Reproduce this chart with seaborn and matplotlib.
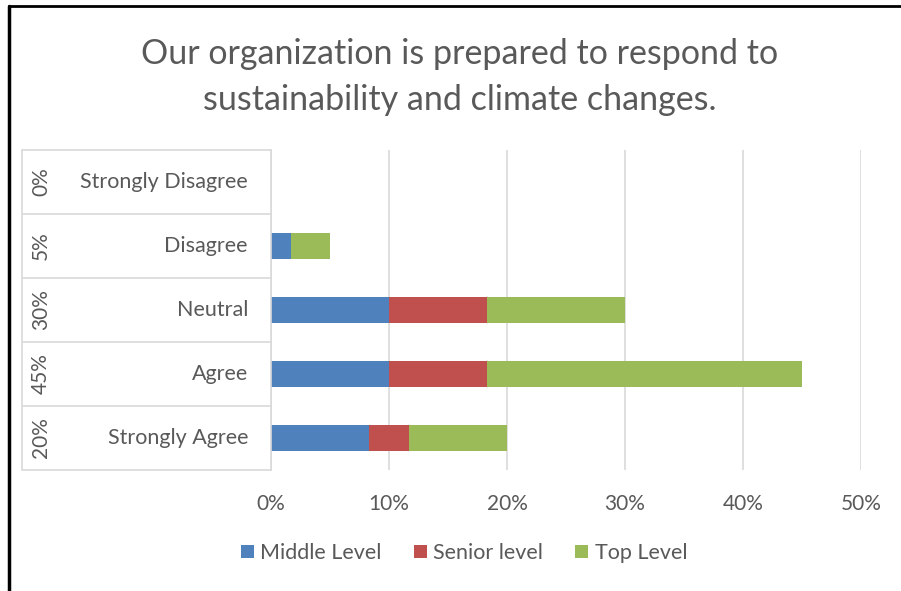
import matplotlib
matplotlib.use("Agg")
import matplotlib.pyplot as plt
import seaborn as sns
import pandas as pd
import numpy as np
from matplotlib.patches import Patch
from matplotlib.lines import Line2D

categories = ["Strongly Disagree", "Disagree", "Neutral", "Agree", "Strongly Agree"]
totals_labels = ["0%", "5%", "30%", "45%", "20%"]
middle_level = [0.0, 1.67, 10.0, 10.0, 8.33]
senior_level = [0.0, 0.0, 8.33, 8.33, 3.33]
top_level = [0.0, 3.33, 11.67, 26.67, 8.33]
series_names = ["Middle Level", "Senior level", "Top Level"]
colors = ["#4f81bd", "#c0504d", "#9bbb59"]
x_ticks = [0, 10, 20, 30, 40, 50]

sns.set_theme(style="white")
plt.rcParams["font.family"] = ["Lato", "DejaVu Sans"]
TXT = "#595959"
GRID = "#d9d9d9"

W, H = 901, 591
fig = plt.figure(figsize=(W / 100, H / 100), dpi=100)

def fx(px):
    return px / W

def fy(py):
    return 1 - py / H

ax = fig.add_axes([fx(271), fy(470), fx(861) - fx(271), fy(150) - fy(470)])

df = pd.DataFrame({
    "category": categories,
    "m": middle_level,
    "s": senior_level,
    "t": top_level,
})
df["c1"] = df["m"]
df["c2"] = df["m"] + df["s"]
df["c3"] = df["m"] + df["s"] + df["t"]

for col, color in zip(["c3", "c2", "c1"], colors[::-1]):
    sns.barplot(data=df, x=col, y="category", order=categories, color=color,
                width=0.4, ax=ax, linewidth=0, saturation=1)

ax.set_xlim(0, 50)
ax.set_ylim(len(categories) - 0.5, -0.5)
ax.set_xticks(x_ticks)
ax.set_xticklabels([f"{v}%" for v in x_ticks], color=TXT, fontsize=15)
ax.tick_params(axis="x", length=0, pad=17)
ax.set_yticks([])
ax.set_xlabel("")
ax.set_ylabel("")
ax.xaxis.grid(True, color=GRID, linewidth=1.2)
ax.set_axisbelow(True)
for s in ["top", "right", "bottom"]:
    ax.spines[s].set_visible(False)
ax.spines["left"].set_color(GRID)
ax.spines["left"].set_linewidth(1.2)

# multi-level category axis
row_h = (470 - 150) / len(categories)
for i, (cat, tl) in enumerate(zip(categories, totals_labels)):
    yc = 150 + row_h * (i + 0.5)
    fig.text(fx(248), fy(yc), cat, ha="right", va="center", color=TXT, fontsize=15.5)
    fig.text(fx(41), fy(yc), tl, ha="center", va="center", rotation=90, color=TXT, fontsize=15)
for i in range(len(categories) + 1):
    yb = 150 + row_h * i
    fig.add_artist(Line2D([fx(22), fx(271)], [fy(yb), fy(yb)], color=GRID, linewidth=1.2))
fig.add_artist(Line2D([fx(22), fx(22)], [fy(150), fy(470)], color=GRID, linewidth=1.2))

# title
fig.text(fx(460), fy(77), "Our organization is prepared to respond to\nsustainability and climate changes.",
         ha="center", va="center", color=TXT, fontsize=24.5, linespacing=1.5)

# legend
handles = [Patch(facecolor=c, edgecolor="none") for c in colors]
fig.legend(handles, series_names, loc="center", bbox_to_anchor=(fx(464), fy(553)), ncol=3,
           frameon=False, fontsize=15.5, labelcolor=TXT, handlelength=0.6, handleheight=0.6,
           handletextpad=0.3, columnspacing=1.5)

# outer border (top and left)
fig.add_artist(Line2D([fx(9), fx(901)], [fy(6), fy(6)], color="black", linewidth=2))
fig.add_artist(Line2D([fx(9), fx(9)], [fy(6), fy(591)], color="black", linewidth=2.5))

fig.savefig("out.png", dpi=100, facecolor="white")
